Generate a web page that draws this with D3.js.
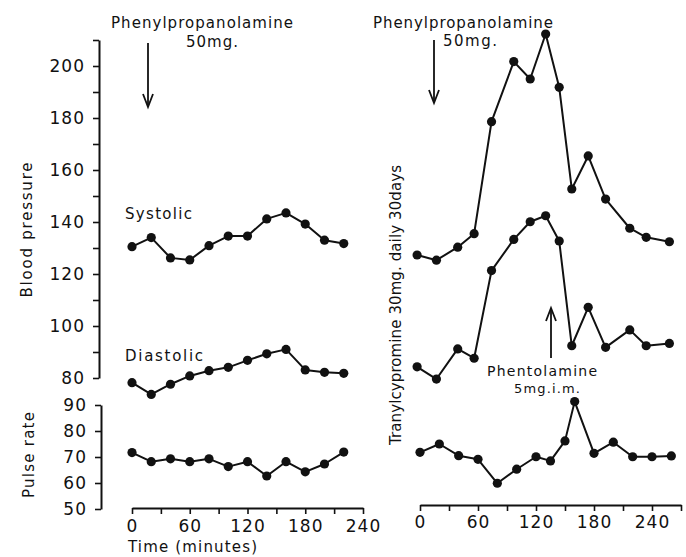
<!DOCTYPE html>
<html><head><meta charset="utf-8">
<script src="https://cdn.jsdelivr.net/npm/d3@7"></script>
<style>
html,body{margin:0;padding:0;background:#fff;}
svg{display:block;}
text{font-family:"DejaVu Sans",sans-serif;fill:#111;}
</style></head>
<body>
<svg id="chart" width="686" height="557"></svg>
<script>
// ---- data ----
const leftTimes = [0,20,40,60,80,100,120,140,160,180,200,220];
const leftSystolic  = [130.5,134,126.2,125.4,130.9,134.6,134.6,141.2,143.5,139.2,133,131.7];
const leftDiastolic = [78.2,73.7,77.6,80.8,82.8,84.1,86.8,89.3,91,83.1,82.2,81.8];
const leftPulse     = [71.7,68.2,69.3,68.2,69.3,66.3,68.2,62.7,68.2,64.3,67.3,71.9];

const rightBpTimes   = [-3,17,39,56,74,97,114,130,144,157,174,192,217,234,258];
const rightSystolic  = [127.3,125.3,130.3,135.5,178.6,201.7,195,212.3,191.8,152.7,165.4,148.8,137.6,134.1,132.4];
const rightDiastolic = [84.3,79.6,91.2,87.6,121.3,133.3,140.1,142.4,132.7,92.4,107.2,91.8,98.5,92.4,93.3];
const rightPulseTimes = [0,20,40,60,80,100,120,135,150,160,180,200,220,240,260];
const rightPulse      = [71.8,75,70.5,69.1,59.9,65.3,70.1,68.5,76.2,91.3,71.4,75.7,70.1,70.1,70.4];

const bpTicks = [80,90,100,110,120,130,140,150,160,170,180,190,200,210];
const bpLabels = [80,100,120,140,160,180,200];
const pulseTicks = [50,60,70,80,90];
const leftTimeTicks = [0,30,60,90,120,150,180,210,240];
const rightTimeTicks = [0,30,60,90,120,150,180,210,240,270];
const timeLabels = [0,60,120,180,240];

// ---- scales ----
const svg = d3.select("#chart");
const xLeft  = d3.scaleLinear().domain([0,240]).range([132,363]);
const xRight = d3.scaleLinear().domain([0,270]).range([420,681]);
const yBP    = d3.scaleLinear().domain([80,210]).range([378,40]);
const yPulse = d3.scaleLinear().domain([50,90]).range([509,405]);

function styleAxis(g){
  g.select(".domain").attr("stroke","#111").attr("stroke-width",2);
  g.selectAll(".tick line").attr("stroke","#111").attr("stroke-width",1.6);
  g.selectAll(".tick text").attr("font-size",17).attr("letter-spacing","1px")
    .attr("font-family","DejaVu Sans, sans-serif").attr("fill","#111");
}

// left BP axis
svg.append("g").attr("transform","translate(99,0)")
  .call(d3.axisLeft(yBP).tickValues(bpTicks).tickSize(6).tickSizeOuter(0).tickPadding(8)
    .tickFormat(d => bpLabels.includes(d) ? d : ""))
  .call(styleAxis);
// pulse axis
svg.append("g").attr("transform","translate(101,0)")
  .call(d3.axisLeft(yPulse).tickValues(pulseTicks).tickSize(6).tickSizeOuter(0).tickPadding(8))
  .call(styleAxis);
// left time axis
svg.append("g").attr("transform","translate(0,508)")
  .call(d3.axisBottom(xLeft).tickValues(leftTimeTicks).tickSize(6).tickSizeOuter(0).tickPadding(6)
    .tickFormat(d => timeLabels.includes(d) ? d : ""))
  .call(styleAxis);
// right time axis
svg.append("g").attr("transform","translate(0,505)")
  .call(d3.axisBottom(xRight).tickValues(rightTimeTicks).tickSize(6).tickSizeOuter(0).tickPadding(5)
    .tickFormat(d => timeLabels.includes(d) ? d : ""))
  .call(styleAxis);

// ---- series ----
function series(times, vals, x, y){
  const pts = times.map((t,i)=>[x(t), y(vals[i])]);
  svg.append("path").attr("d", d3.line()(pts)).attr("fill","none")
    .attr("stroke","#111").attr("stroke-width",2).attr("stroke-linejoin","round");
  svg.append("g").selectAll("circle").data(pts).join("circle")
    .attr("cx",d=>d[0]).attr("cy",d=>d[1]).attr("r",4.6).attr("fill","#111");
}
series(leftTimes, leftSystolic, xLeft, yBP);
series(leftTimes, leftDiastolic, xLeft, yBP);
series(leftTimes, leftPulse, xLeft, yPulse);
series(rightBpTimes, rightSystolic, xRight, yBP);
series(rightBpTimes, rightDiastolic, xRight, yBP);
series(rightPulseTimes, rightPulse, xRight, yPulse);

// ---- text ----
function txt(s, x, y, size, anchor, width, rot){
  const t = svg.append("text").text(s).attr("font-size",size).attr("text-anchor",anchor||"start");
  if (rot){ t.attr("transform",`translate(${x},${y}) rotate(-90)`); }
  else { t.attr("x",x).attr("y",y); }
  if (width){ t.attr("textLength",width).attr("lengthAdjust","spacing"); }
  return t;
}
txt("Phenylpropanolamine", 202, 28, 15, "middle", 182);
txt("50mg.", 212, 47, 15, "middle", 52);
txt("Phenylpropanolamine", 463, 28, 15, "middle", 180);
txt("50mg.", 470, 46, 15, "middle", 54);
txt("Systolic", 125, 219, 15, "start", 67);
txt("Diastolic", 125, 361, 15, "start", 78);
txt("Phentolamine", 542, 376, 14, "middle", 110);
txt("5mg.i.m.", 547, 393, 13, "middle", 66);
txt("Time (minutes)", 128, 552, 15, "start", 129);
txt("Blood pressure", 32, 230, 15, "middle", 135, true);
txt("Pulse rate", 34, 455, 15, "middle", 86, true);
txt("Tranylcypromine 30mg. daily 30days", 401, 305, 15, "middle", 280, true);

// ---- arrows ----
function arrow(x, y1, y2){
  const dir = y2 > y1 ? 1 : -1;
  const g = svg.append("g").attr("stroke","#111").attr("stroke-width",1.8).attr("fill","none");
  g.append("line").attr("x1",x).attr("x2",x).attr("y1",y1).attr("y2",y2);
  g.append("path").attr("d",`M${x-5},${y2-dir*13}L${x},${y2}L${x+5},${y2-dir*13}`);
}
arrow(148, 43, 107);
arrow(434, 40, 103);
arrow(551, 358, 308);
</script>
</body></html>
